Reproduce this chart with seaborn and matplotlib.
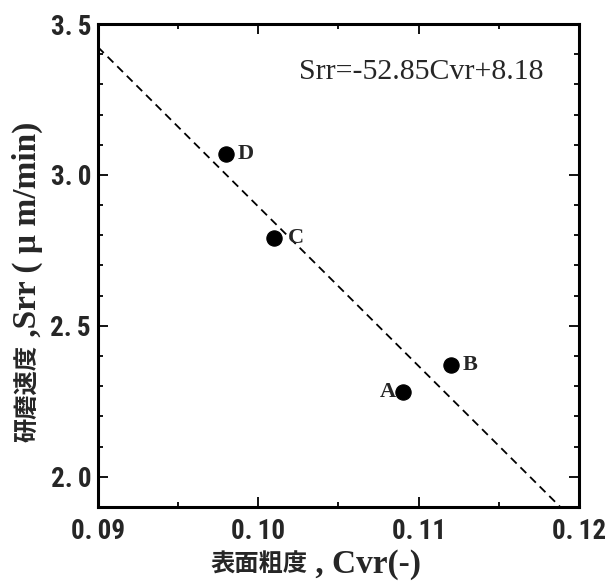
import numpy as np
import pandas as pd
import matplotlib
matplotlib.use("Agg")
import matplotlib.pyplot as plt
import seaborn as sns
from matplotlib import font_manager as fm
from matplotlib.ticker import FixedLocator, MultipleLocator

# Sample data: surface roughness vs. polishing rate
samples = ["A", "B", "C", "D"]
cvr = [0.109, 0.112, 0.101, 0.098]
srr = [2.28, 2.37, 2.79, 3.07]

# Regression line Srr = slope * Cvr + intercept
slope = -52.85
intercept = 8.18

x_ticks = [0.09, 0.10, 0.11, 0.12]
x_tick_labels = ["0.\u200909", "0.\u200910", "0.\u200911", "0.\u200912"]
y_ticks = [2.0, 2.5, 3.0, 3.5]
y_tick_labels = ["2.\u20090", "2.\u20095", "3.\u20090", "3.\u20095"]

sns.set_theme(style="white")
plt.rcParams["font.family"] = ["Liberation Serif", "Noto Sans CJK JP"]


def narrow_bold_font():
    """Return a condensed bold sans face for the tick numbers."""
    choices = [("Roboto Condensed", "normal", 19.5),
               ("Liberation Sans Narrow", "normal", 19.5),
               ("Open Sans Condensed", "normal", 19),
               ("DejaVu Sans", "condensed", 16.5)]
    for family, stretch, size in choices:
        prop = fm.FontProperties(family=family, weight="bold",
                                 stretch=stretch, size=size)
        try:
            path = fm.findfont(prop, fallback_to_default=False)
        except ValueError:
            continue
        if stretch == "condensed" and "ondensed" not in path:
            continue
        return fm.FontProperties(fname=path, size=size)
    return fm.FontProperties(family="Liberation Sans", weight="bold", size=16)


df = pd.DataFrame({"Cvr": cvr, "Srr": srr, "sample": samples})
fit_x = np.array([0.09, 0.12])
fit = pd.DataFrame({"Cvr": fit_x, "Srr": slope * fit_x + intercept})

fig = plt.figure(figsize=(6.05, 5.88), dpi=100)
ax = fig.add_axes([0.162, 0.138, 0.795, 0.821])

sns.lineplot(data=fit, x="Cvr", y="Srr", ax=ax, color="black", lw=1.3,
             linestyle=(0, (4.5, 3)))
sns.scatterplot(data=df, x="Cvr", y="Srr", ax=ax, color="black", s=120,
                edgecolor="black", zorder=3)
ax.set_xlabel("")
ax.set_ylabel("")

# Point labels
label_offsets = {"A": -5, "B": 8.5, "C": 10, "D": 8.5}
for name, xv, yv in zip(samples, cvr, srr):
    dx = label_offsets[name]
    ax.annotate(name, (xv, yv), xytext=(dx, 0), textcoords="offset points",
                ha="left" if dx > 0 else "right", va="center",
                fontsize=16, fontweight="bold", family="Liberation Serif")

ax.text(0.418, 0.90, "Srr=-52.85Cvr+8.18", transform=ax.transAxes,
        fontsize=21.5, family="Liberation Serif", ha="left", va="center")

ax.set_xlim(0.09, 0.12)
ax.set_ylim(1.9, 3.5)
ax.xaxis.set_major_locator(FixedLocator(x_ticks))
ax.yaxis.set_major_locator(FixedLocator(y_ticks))
ax.xaxis.set_minor_locator(MultipleLocator(0.005))
ax.yaxis.set_minor_locator(MultipleLocator(0.1))
ax.set_xticklabels(x_tick_labels)
ax.set_yticklabels(y_tick_labels)

tick_prop = narrow_bold_font()
for lab in ax.get_xticklabels() + ax.get_yticklabels():
    lab.set_fontproperties(tick_prop)

ax.tick_params(which="both", direction="in", top=True, right=True,
               bottom=True, left=True, color="black", width=1.3)
ax.tick_params(which="major", length=7, pad=5)
ax.tick_params(which="minor", length=3.5)
ax.tick_params(axis="x", which="major", pad=8)

for sp in ax.spines.values():
    sp.set_color("black")
    sp.set_linewidth(2.2)

# Axis titles: CJK part and Latin part at their own sizes
cjk = dict(family=["Noto Sans CJK JP"], fontweight="bold", fontsize=17.5)
lat = dict(family=["Liberation Serif", "Noto Sans CJK JP"], fontweight="bold",
           fontsize=24)

ax.text(0.435, -0.12, "表面粗度", transform=ax.transAxes, ha="right",
        va="center", **cjk)
ax.text(0.435, -0.12, " , Cvr(-)", transform=ax.transAxes, ha="left",
        va="center", **lat)

ax.text(-0.146, 0.335, "研磨速度", transform=ax.transAxes, rotation=90,
        rotation_mode="anchor", ha="right", va="center", **cjk)
ax.text(-0.146, 0.335, " ,Srr ( μ m/min)", transform=ax.transAxes,
        rotation=90, rotation_mode="anchor", ha="left", va="center", **lat)

fig.savefig("out.png", dpi=100, facecolor="white")
